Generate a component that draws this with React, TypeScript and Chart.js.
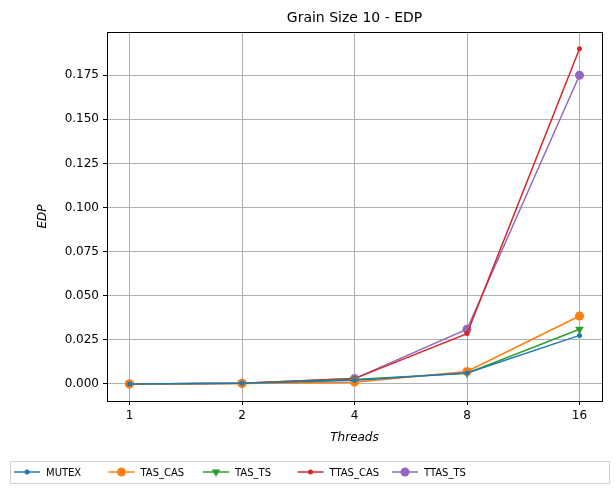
import React, { useEffect, useRef } from "react";
import { Chart, registerables } from "chart.js";
Chart.register(...registerables);

const threads = ["1", "2", "4", "8", "16"];
const seriesNames = ["MUTEX", "TAS_CAS", "TAS_TS", "TTAS_CAS", "TTAS_TS"];
const colors = ["#1f77b4", "#ff7f0e", "#2ca02c", "#d62728", "#9467bd"];
const mutex = [0, 0.0003, 0.002, 0.0062, 0.0275];
const tasCas = [0, 0.0002, 0.001, 0.007, 0.0385];
const tasTs = [0, 0.0003, 0.0025, 0.006, 0.031];
const ttasCas = [0, 0.0004, 0.003, 0.0285, 0.19];
const ttasTs = [0, 0.0004, 0.003, 0.031, 0.175];
const yTicks = [0, 0.025, 0.05, 0.075, 0.1, 0.125, 0.15, 0.175];

const styles = [
  { ps: "circle", r: 2.5, rot: 0 },
  { ps: "circle", r: 4.5, rot: 0 },
  { ps: "triangle", r: 5, rot: 180 },
  { ps: "circle", r: 2.5, rot: 0 },
  { ps: "circle", r: 4.5, rot: 0 },
];

function marker(ctx: CanvasRenderingContext2D, i: number, x: number, y: number) {
  const s = styles[i];
  ctx.beginPath();
  if (s.ps === "circle") {
    ctx.arc(x, y, s.r, 0, Math.PI * 2);
  } else {
    const r = s.r;
    ctx.moveTo(x - r * 0.87, y - r * 0.5);
    ctx.lineTo(x + r * 0.87, y - r * 0.5);
    ctx.lineTo(x, y + r);
    ctx.closePath();
  }
  ctx.fill();
}

export default function App() {
  const ref = useRef<HTMLCanvasElement>(null);
  useEffect(() => {
    document.body.style.margin = "0";
    const all = [mutex, tasCas, tasTs, ttasCas, ttasTs];
    const font = "DejaVu Sans";
    const textPlugin = {
      id: "texts",
      afterDraw(c: any) {
        const ctx = c.ctx;
        const a = c.chartArea;
        ctx.save();
        ctx.strokeStyle = "#000";
        ctx.lineWidth = 1;
        ctx.strokeRect(a.left + 0.5, a.top + 0.5, a.right - a.left, a.bottom - a.top);
        ctx.fillStyle = "#000";
        ctx.textAlign = "center";
        ctx.textBaseline = "middle";
        ctx.font = `14px ${font}`;
        ctx.fillText("Grain Size 10 - EDP", (a.left + a.right) / 2, 18);
        ctx.font = `italic 12px ${font}`;
        ctx.fillText("Threads", (a.left + a.right) / 2, 438);
        ctx.translate(43, (a.top + a.bottom) / 2);
        ctx.rotate(-Math.PI / 2);
        ctx.fillText("EDP", 0, 0);
        ctx.restore();
        ctx.save();
        ctx.strokeStyle = "#d0d0d0";
        ctx.fillStyle = "#fff";
        ctx.lineWidth = 1;
        ctx.beginPath();
        ctx.rect(10.5, 461.5, 599, 22);
        ctx.fill();
        ctx.stroke();
        ctx.font = `10px ${font}`;
        ctx.textBaseline = "middle";
        ctx.textAlign = "left";
        seriesNames.forEach((n, i) => {
          const x0 = 14 + i * 94.5;
          const y = 472;
          ctx.strokeStyle = colors[i];
          ctx.lineWidth = 1.5;
          ctx.beginPath();
          ctx.moveTo(x0, y);
          ctx.lineTo(x0 + 26, y);
          ctx.stroke();
          ctx.fillStyle = colors[i];
          marker(ctx, i, x0 + 13, y);
          ctx.fillStyle = "#000";
          ctx.fillText(n, x0 + 32, y + 1);
        });
        ctx.restore();
      },
    };
    const chart = new Chart(ref.current!, {
      type: "line",
      data: {
        datasets: all.map((vals, i) => ({
          label: seriesNames[i],
          data: vals.map((v, j) => ({ x: j, y: v })),
          borderColor: colors[i],
          backgroundColor: colors[i],
          borderWidth: 1.5,
          pointStyle: styles[i].ps as any,
          pointRadius: styles[i].r,
          pointRotation: styles[i].rot,
          pointBorderWidth: 0,
          tension: 0,
        })),
      },
      options: {
        responsive: false,
        animation: false,
        layout: { padding: { left: 0, top: 32, right: 13, bottom: 0 } },
        plugins: { legend: { display: false }, title: { display: false }, tooltip: { enabled: false } },
        scales: {
          x: {
            type: "linear",
            min: -0.2,
            max: 4.2,
            afterBuildTicks: (s: any) => { s.ticks = threads.map((_, i) => ({ value: i })); },
            afterFit: (s: any) => { s.height = 91; },
            ticks: { color: "#000", font: { family: font, size: 12 }, callback: (v: any) => threads[v] ?? "", padding: 4 },
            grid: { color: "#b0b0b0", tickColor: "#000", tickLength: 4 },
            border: { display: false },
          },
          y: {
            min: -0.0097,
            max: 0.1995,
            afterBuildTicks: (s: any) => { s.ticks = yTicks.map((v) => ({ value: v })); },
            afterFit: (s: any) => { s.width = 107; },
            ticks: { color: "#000", font: { family: font, size: 12 }, callback: (v: any) => Number(v).toFixed(3), padding: 4 },
            grid: { color: "#b0b0b0", tickColor: "#000", tickLength: 4 },
            border: { display: false },
          },
        },
      },
      plugins: [textPlugin],
    });
    return () => chart.destroy();
  }, []);
  return <canvas ref={ref} width={615} height={492} style={{ width: 615, height: 492, display: "block" }} />;
}
